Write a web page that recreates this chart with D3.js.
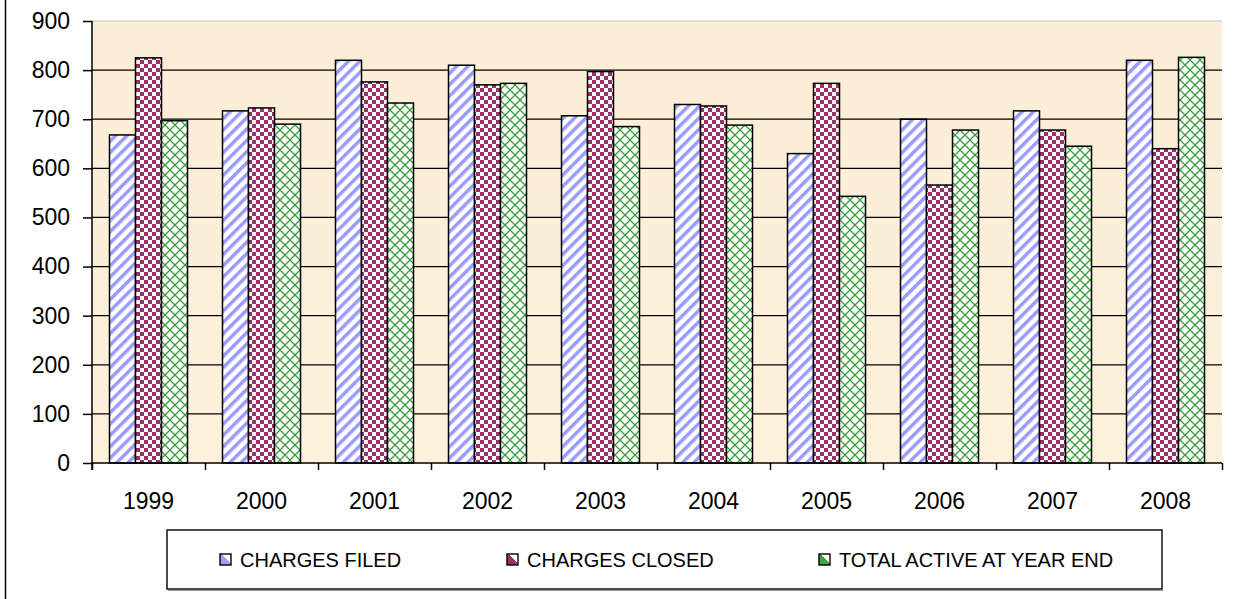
<html>
<head>
<script src="https://d3js.org/d3.v7.min.js"></script>
<style>
  body { margin: 0; background: #fff; }
  text { font-family: Arial, "Liberation Sans", sans-serif; fill: #000; }
</style>
</head>
<body>
<svg width="1235" height="599"></svg>
<script>
// data
var years = ['1999','2000','2001','2002','2003','2004','2005','2006','2007','2008'];
var series = ['CHARGES FILED', 'CHARGES CLOSED', 'TOTAL ACTIVE AT YEAR END'];
var chargesFiled  = [668, 717, 820, 810, 707, 730, 630, 700, 717, 820];
var chargesClosed = [825, 723, 776, 770, 797, 727, 773, 566, 678, 640];
var totalActive   = [697, 690, 733, 773, 685, 688, 543, 678, 645, 826];
var yTicks = [0, 100, 200, 300, 400, 500, 600, 700, 800, 900];

var values = [chargesFiled, chargesClosed, totalActive];
var rows = [];
years.forEach(function(yr, i) {
  series.forEach(function(s, j) { rows.push({ year: yr, series: s, idx: j, value: values[j][i] }); });
});

var svg = d3.select('svg');
var plotL = 92, plotR = 1222, plotT = 21, plotB = 463;

var x = d3.scaleBand().domain(years).range([plotL, plotR]).padding(0);
var xs = d3.scaleBand().domain(series).range([17.5, x.bandwidth() - 17.5]).padding(0);
var y = d3.scaleLinear().domain([0, 900]).range([plotB, plotT]);
var xEdge = d3.scaleLinear().domain([0, years.length]).range([plotL, plotR]);

var defs = svg.append('defs');

var bg = defs.append('linearGradient').attr('id', 'bg').attr('x1', 0).attr('y1', 0).attr('x2', 0).attr('y2', 1);
bg.append('stop').attr('offset', '0%').attr('stop-color', '#fbedd6');
bg.append('stop').attr('offset', '100%').attr('stop-color', '#fdf1dc');

// diagonal stripes
var p1 = defs.append('pattern').attr('id', 'pFiled').attr('patternUnits', 'userSpaceOnUse')
  .attr('width', 8).attr('height', 8).attr('patternTransform', 'rotate(45)');
p1.append('rect').attr('width', 8).attr('height', 8).attr('fill', '#fff');
p1.append('rect').attr('width', 3.5).attr('height', 8).attr('fill', '#9b9bfb');

// checkerboard
var p2 = defs.append('pattern').attr('id', 'pClosed').attr('patternUnits', 'userSpaceOnUse')
  .attr('width', 8).attr('height', 8);
p2.append('rect').attr('width', 8).attr('height', 8).attr('fill', '#fff');
p2.append('rect').attr('width', 4).attr('height', 4).attr('fill', '#993366');
p2.append('rect').attr('x', 4).attr('y', 4).attr('width', 4).attr('height', 4).attr('fill', '#993366');

// crosshatch
var p3 = defs.append('pattern').attr('id', 'pActive').attr('patternUnits', 'userSpaceOnUse')
  .attr('width', 10).attr('height', 10);
p3.append('rect').attr('width', 10).attr('height', 10).attr('fill', '#fff');
p3.append('path').attr('d', 'M0,0L10,10M10,0L0,10').attr('stroke', '#3a9f3a').attr('stroke-width', 1.3);

var fills = ['url(#pFiled)', 'url(#pClosed)', 'url(#pActive)'];
var swatch = ['#9f9ff5', '#993366', '#3fa53f'];

series.forEach(function(s, j) {
  var g = defs.append('linearGradient').attr('id', 'sw' + j).attr('x1', 0).attr('y1', 1).attr('x2', 1).attr('y2', 0);
  g.append('stop').attr('offset', '0%').attr('stop-color', swatch[j]);
  g.append('stop').attr('offset', '55%').attr('stop-color', swatch[j]);
  g.append('stop').attr('offset', '55%').attr('stop-color', '#fff');
});

// outer frame
svg.append('line').attr('x1', 5.5).attr('x2', 5.5).attr('y1', 0).attr('y2', 599)
  .attr('stroke', '#000').attr('stroke-width', 1.5);

// plot background
svg.append('rect').attr('x', plotL).attr('y', plotT).attr('width', plotR - plotL).attr('height', plotB - plotT)
  .attr('fill', 'url(#bg)');
svg.append('line').attr('x1', plotL).attr('x2', plotR).attr('y1', plotT).attr('y2', plotT)
  .attr('stroke', '#d4d4d4').attr('stroke-width', 1.5);

// gridlines
svg.append('g').selectAll('line').data(yTicks.filter(function(t) { return t > 0 && t < 900; }))
  .enter().append('line')
  .attr('x1', plotL).attr('x2', plotR)
  .attr('y1', function(d) { return y(d); }).attr('y2', function(d) { return y(d); })
  .attr('stroke', '#000').attr('stroke-width', 1.3);

// bars
svg.append('g').selectAll('rect').data(rows).enter().append('rect')
  .attr('x', function(d) { return x(d.year) + xs(d.series); })
  .attr('y', function(d) { return y(d.value); })
  .attr('width', xs.bandwidth())
  .attr('height', function(d) { return y(0) - y(d.value); })
  .attr('fill', function(d) { return fills[d.idx]; })
  .attr('stroke', '#000').attr('stroke-width', 1.5);

// y axis
var ya = svg.append('g').attr('transform', 'translate(' + plotL + ',0)')
  .call(d3.axisLeft(y).tickValues(yTicks).tickSize(9).tickPadding(13));
ya.select('.domain').attr('d', 'M0,' + plotT + 'V' + (plotB + 7)).attr('stroke-width', 1.5);
ya.selectAll('.tick line').attr('stroke-width', 1.5);
ya.selectAll('.tick text').attr('font-size', 23).attr('font-family', 'Arial, "Liberation Sans", sans-serif');

// x axis: ticks at category edges
var xa = svg.append('g').attr('transform', 'translate(0,' + plotB + ')')
  .call(d3.axisBottom(xEdge).ticks(10).tickSize(7).tickFormat(''));
xa.select('.domain').attr('d', 'M' + plotL + ',0H' + plotR).attr('stroke-width', 1.5);
xa.selectAll('.tick line').attr('stroke-width', 1.5);

svg.append('g').selectAll('text').data(years).enter().append('text')
  .attr('x', function(d) { return x(d) + x.bandwidth() / 2; })
  .attr('y', 509)
  .attr('text-anchor', 'middle')
  .attr('font-size', 23)
  .text(function(d) { return d; });

// legend
svg.append('line').attr('x1', 168).attr('x2', 1163).attr('y1', 590.5).attr('y2', 590.5)
  .attr('stroke', '#999').attr('stroke-width', 1);
svg.append('rect').attr('x', 167).attr('y', 530).attr('width', 995).attr('height', 59)
  .attr('fill', '#fff').attr('stroke', '#111').attr('stroke-width', 1.5);
var legX = [220, 507, 819];
var leg = svg.append('g').selectAll('g').data(series).enter().append('g')
  .attr('transform', function(d, i) { return 'translate(' + legX[i] + ',554)'; });
leg.append('rect').attr('width', 11).attr('height', 11)
  .attr('fill', function(d, i) { return 'url(#sw' + i + ')'; })
  .attr('stroke', '#000').attr('stroke-width', 1.4);
leg.append('text').attr('x', 20).attr('y', 13).attr('font-size', 20).text(function(d) { return d; });
</script>
</body>
</html>
